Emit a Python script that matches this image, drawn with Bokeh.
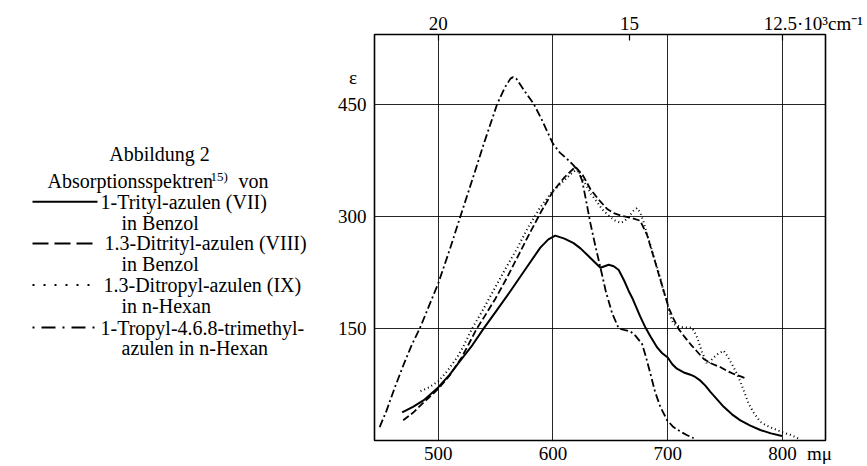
from bokeh.plotting import figure
from bokeh.models import Range1d, FixedTicker, LinearAxis, CustomJSTickFormatter
from bokeh.layouts import row
from bokeh.embed import file_html
from bokeh.resources import INLINE
from bokeh.core.properties import value

# ---------------- data ----------------
# 1-Trityl-azulen (VII) in Benzol  (solid)
lam_vii = [468.6, 478, 487.5, 500, 510, 519.4, 530, 539.7, 551, 563, 576, 589, 596, 602,
           610, 618, 624, 630, 636, 641.4, 645, 648.6, 653, 657.3, 662, 666, 669, 676,
           680.6, 685, 690.8, 695, 700, 704, 708, 714, 719.8, 724, 728.5, 733, 737.2,
           743, 748.8, 756, 763.3, 772, 780.7, 790, 799.6]
eps_vii = [37.5, 45, 54, 71, 88, 107, 128, 150, 174, 200, 229, 258, 269, 274,
           270, 264, 257, 248, 239, 231, 233, 235, 233, 228, 214, 200, 191, 166,
           151, 139, 124.5, 117, 111, 102, 96, 91, 88, 85, 80, 73, 65,
           55, 45, 35, 27, 20, 14, 9.5, 6]

# 1.3-Ditrityl-azulen (VIII) in Benzol  (dashed)
lam_viii = [469.5, 478, 486, 500, 510, 520, 527, 533, 540, 550, 560, 570, 580, 590, 600,
            610, 619.6, 626, 632.7, 640, 647, 653, 658.8, 667.5, 676, 682, 689, 696.5,
            701, 705, 709.6, 714, 719.8, 725, 731.4, 738, 746, 752, 757.5, 763, 769]
eps_viii = [27, 37, 49, 69, 87, 110, 130, 148, 165, 190, 218, 248, 278, 307, 333,
            352, 366, 355, 336, 322, 310, 304, 301, 298, 294, 275, 239, 200,
            177, 163, 149, 140, 129, 120, 109, 103, 98, 93, 89, 86, 82.5]

# 1.3-Ditropyl-azulen (IX) in n-Hexan  (dotted)
lam_ix = [484.6, 492, 500, 508, 516.5, 522, 529.6, 538, 548, 558, 568.8, 578, 589, 600,
          606.6, 615.2, 621, 624, 628.3, 633, 638.5, 643, 648.6, 653, 658.8, 662, 666,
          670, 673.3, 676, 679, 682, 685, 689, 693.6, 697, 699.5, 702, 705, 711, 716,
          721, 723, 725.6, 730, 734.3, 737, 740, 744, 748.8, 752, 756, 760, 763, 767,
          770.6, 775, 780.7, 786, 792, 800, 807, 815]
eps_ix = [66, 71, 79, 93, 111, 126, 150, 172, 200, 228, 257, 284, 312, 334,
          343, 356, 363, 356, 343, 330, 319, 309, 301, 295, 291, 293, 299,
          307, 311, 305, 292, 276, 261, 240, 217, 196, 186, 168, 156, 152, 151,
          151, 146, 138, 118, 102, 106, 111, 116, 120, 113, 102, 90, 80, 64,
          49, 37, 25, 20, 16, 11, 7.5, 2]

# 1-Tropyl-4.6.8-trimethyl-azulen in n-Hexan  (dash-dot)
lam_x = [449, 455, 462, 470, 477, 484, 492, 500, 510, 519.4, 530, 540, 551.4, 558, 563,
         565.3, 568, 575, 583.3, 590, 596, 600, 606, 612, 618, 622, 625.4, 629, 632.7,
         637, 641.4, 646, 651.6, 657.3, 662, 667.5, 672, 677.7, 681, 685, 689, 693.6,
         699.5, 705, 711, 717, 722.6]
eps_x = [18, 40, 70, 102, 128, 150, 180, 210, 255, 300, 350, 398, 450, 472, 484,
         486, 484, 468, 450, 430, 410, 397, 385, 377, 368, 360, 348, 320, 290,
         260, 231, 200, 170, 150, 148, 146, 140, 129, 112, 89, 65, 45,
         27, 18, 12, 7, 3]

x_ticks_nm = [500, 600, 700, 800]
y_ticks_eps = [150, 300, 450]
top_ticks_kcm = [20, 15, 12.5]          # 10^3 cm^-1
top_ticks_nm = [1e4 / k for k in top_ticks_kcm]

x_unit = "mμ"
x_unit_pos = 832.2          # where the unit text sits along the bottom axis
y_symbol = "ε"
y_symbol_pos = 486.0        # where the ε sits along the left axis
top_unit = "·10³cm⁻¹"

title_text = "Abbildung 2"
subtitle_text = "Absorptionsspektren"
subtitle_sup = "15)"
subtitle_end = "von"
legend_names = ["1-Trityl-azulen (VII)", "1.3-Ditrityl-azulen (VIII)",
                "1.3-Ditropyl-azulen (IX)", "1-Tropyl-4.6.8-trimethyl-"]
legend_solvents = ["in Benzol", "in Benzol", "in n-Hexan", "azulen in n-Hexan"]

FONT = "Liberation Serif"
FS = "20px"
AFS = "19px"
NBSP = "\u00a0"
styles = [dict(line_dash="solid", line_width=2.0),
          dict(line_dash="7 3", line_width=1.8),
          dict(line_dash="1 3", line_width=2.0),
          dict(line_dash="8 3 2 3", line_width=1.8)]
legend_dashes = ["solid", "16 6", "2 9", "2 7 14 7"]

# ---------------- legend panel ----------------
# its frame is aligned with the spectrum frame (pixels 34..444 vertically)
leg = figure(width=330, height=466, x_range=Range1d(0, 330), y_range=Range1d(444, 34),
             output_backend="svg", toolbar_location=None,
             x_axis_location=None, y_axis_location=None, min_border=0)
leg.outline_line_color = None
leg.xgrid.visible = False
leg.ygrid.visible = False
leg.background_fill_color = "white"
leg.border_fill_color = "white"

tf = value(FONT)
leg.text(x=[159], y=[155], text=[title_text], text_font=tf, text_font_size=FS,
         text_align="center", text_baseline="middle", text_color="black")
leg.text(x=[47], y=[182], text=[subtitle_text], text_font=tf, text_font_size=FS,
         text_align="left", text_baseline="middle", text_color="black")
leg.text(x=[210], y=[177], text=[subtitle_sup], text_font=tf, text_font_size="13px",
         text_align="left", text_baseline="middle", text_color="black")
leg.text(x=[238], y=[182], text=[subtitle_end], text_font=tf, text_font_size=FS,
         text_align="left", text_baseline="middle", text_color="black")

row_y = [203, 245, 287, 330]
name_x = [100, 104, 103, 100]
for i in range(4):
    y = row_y[i]
    leg.line(x=[32, 97], y=[y, y], line_color="black", line_width=2,
             line_dash=legend_dashes[i])
    leg.text(x=[name_x[i]], y=[y], text=[legend_names[i]], text_font=tf,
             text_font_size=FS, text_align="left", text_baseline="middle",
             text_color="black")
    leg.text(x=[121], y=[y + 21], text=[legend_solvents[i]], text_font=tf,
             text_font_size=FS, text_align="left", text_baseline="middle",
             text_color="black")

# ---------------- spectrum plot ----------------
p = figure(width=537, height=466, x_range=Range1d(444.5, 837.5), y_range=Range1d(0, 543),
           output_backend="svg", toolbar_location=None,
           min_border_left=44, min_border_right=42, min_border_top=34, min_border_bottom=22)
p.background_fill_color = "white"
p.border_fill_color = "white"
p.outline_line_color = "black"
p.outline_line_width = 1.6

for ax in (p.xaxis[0], p.yaxis[0]):
    ax.axis_line_color = None
    ax.major_tick_line_color = None
    ax.minor_tick_line_color = None
    ax.major_label_text_font = FONT
    ax.major_label_text_font_size = AFS
    ax.major_label_text_color = "black"
    ax.major_label_standoff = 2
p.xaxis[0].ticker = FixedTicker(ticks=x_ticks_nm + [x_unit_pos])
p.xaxis[0].major_label_overrides = {x_unit_pos: x_unit}
p.xaxis[0].major_label_standoff = -4
p.yaxis[0].ticker = FixedTicker(ticks=y_ticks_eps + [y_symbol_pos])
p.yaxis[0].major_label_overrides = {y_symbol_pos: y_symbol + NBSP * 2}

top = LinearAxis(
    ticker=FixedTicker(ticks=top_ticks_nm),
    formatter=CustomJSTickFormatter(
        args=dict(unit=top_unit, last=top_ticks_nm[-1], pad=NBSP * 13),
        code="const k = Math.round(100000/tick)/10;"
             "return (tick == last) ? pad + String(k) + unit : String(k);"))
top.axis_line_color = None
top.major_tick_in = 6
top.major_tick_out = 0
top.major_tick_line_color = "black"
top.major_tick_line_width = 1.2
top.minor_tick_line_color = None
top.major_label_text_font = FONT
top.major_label_text_font_size = AFS
top.major_label_text_color = "black"
top.major_label_standoff = 1
p.add_layout(top, "above")

p.xgrid.ticker = FixedTicker(ticks=x_ticks_nm)
p.ygrid.ticker = FixedTicker(ticks=y_ticks_eps)
p.grid.grid_line_color = "black"
p.grid.grid_line_alpha = 0.85
p.grid.grid_line_width = 1

series = [(lam_vii, eps_vii), (lam_viii, eps_viii), (lam_ix, eps_ix), (lam_x, eps_x)]
for (xs, ys), st in zip(series, styles):
    p.line(x=xs, y=ys, line_color="black", line_join="round", **st)

layout = row(leg, p, spacing=0)
open("out.html", "w").write(file_html(layout, INLINE))
